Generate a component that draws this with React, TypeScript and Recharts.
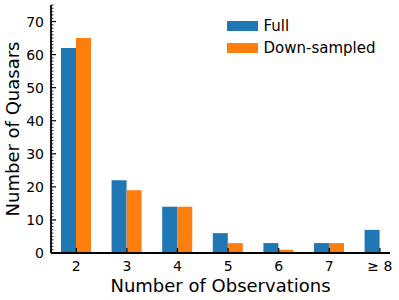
import React from 'react';
import { BarChart, Bar, XAxis, YAxis, Legend } from 'recharts';

const categories = [2, 3, 4, 5, 6, 7, 8];
const tickLabels = ['2', '3', '4', '5', '6', '7', '\u2265 8'];
const fullCounts = [62, 22, 14, 6, 3, 3, 7];
const downCounts: (number | null)[] = [65, 19, 14, 3, 1, 3, null];
const yMajorTicks = [0, 10, 20, 30, 40, 50, 60, 70];
const yMinorTicks = Array.from({ length: 76 }, (_, i) => i);

const seriesNames = ['Full', 'Down-sampled'];
const colors = ['#1f77b4', '#ff7f0e'];

const data = categories.map((c, i) => ({ x: c, full: fullCounts[i], down: downCounts[i] }));

const FONT = 'DejaVu Sans, sans-serif';

const BottomTick = (props: any) => {
  const { x, y, payload } = props;
  const idx = categories.indexOf(payload.value);
  return (
    <g>
      <line x1={x} x2={x} y1={y} y2={y - 5} stroke="#000" strokeWidth={1.2} />
      <text x={x} y={y + 18} textAnchor="middle" fontSize={14} fontFamily={FONT} fill="#000">
        {idx >= 0 ? tickLabels[idx] : payload.value}
      </text>
    </g>
  );
};

const TopTick = (props: any) => {
  const { x, y } = props;
  return <line x1={x} x2={x} y1={y} y2={y + 5} stroke="#000" strokeWidth={1.2} />;
};

const LeftTick = (props: any) => {
  const { x, y, payload } = props;
  const major = yMajorTicks.includes(payload.value);
  return (
    <g>
      <line x1={x} x2={x + (major ? 5 : 2.5)} y1={y} y2={y} stroke="#000" strokeWidth={major ? 1.2 : 0.8} />
      {major && (
        <text x={x - 7} y={y + 5} textAnchor="end" fontSize={14} fontFamily={FONT} fill="#000">
          {payload.value}
        </text>
      )}
    </g>
  );
};

const RightTick = (props: any) => {
  const { x, y, payload } = props;
  const major = yMajorTicks.includes(payload.value);
  return <line x1={x} x2={x - (major ? 5 : 2.5)} y1={y} y2={y} stroke="#000" strokeWidth={major ? 1.2 : 0.8} />;
};

const LegendContent = () => (
  <svg width={160} height={42} style={{ display: 'block' }}>
    {seriesNames.map((n, i) => (
      <g key={n}>
        <rect x={0} y={3 + i * 22} width={31} height={10} fill={colors[i]} />
        <text x={36.5} y={12.7 + i * 22} fontSize={15} fontFamily={FONT} fill="#000">
          {n}
        </text>
      </g>
    ))}
  </svg>
);

export default function App() {
  return (
    <div style={{ position: 'absolute', left: 0, top: 0, width: 399, height: 300, background: '#fff' }}>
      <BarChart
        width={399}
        height={300}
        data={data}
        margin={{ top: 5, right: 9, bottom: 0, left: 0 }}
        barGap={0}
        barSize={15}
      >
        <XAxis
          xAxisId="b"
          dataKey="x"
          type="number"
          domain={[1.5, 8.2]}
          ticks={categories}
          interval={0}
          allowDataOverflow
          height={47}
          tickSize={0}
          tickMargin={0}
          tickLine={false}
          axisLine={{ stroke: '#000', strokeWidth: 1.8 }}
          tick={(p: any) => <BottomTick {...p} />}
          label={{ value: 'Number of Observations', position: 'insideBottom', offset: 8, fontSize: 18, fontFamily: FONT, fill: '#000' }}
        />
        <XAxis
          xAxisId="t"
          orientation="top"
          dataKey="x"
          type="number"
          domain={[1.5, 8.2]}
          ticks={categories}
          interval={0}
          allowDataOverflow
          height={0}
          tickSize={0}
          tickMargin={0}
          tickLine={false}
          axisLine={{ stroke: '#000', strokeWidth: 1.8 }}
          tick={(p: any) => <TopTick {...p} />}
        />
        <YAxis
          yAxisId="l"
          type="number"
          domain={[0, 75]}
          ticks={yMinorTicks}
          interval={0}
          allowDataOverflow
          width={51}
          tickSize={0}
          tickMargin={0}
          tickLine={false}
          axisLine={{ stroke: '#000', strokeWidth: 1.8 }}
          tick={(p: any) => <LeftTick {...p} />}
          label={{ value: 'Number of Quasars', angle: -90, position: 'insideLeft', offset: 0, dx: 13, fontSize: 18, fontFamily: FONT, fill: '#000', style: { textAnchor: 'middle' } }}
        />
        <YAxis
          yAxisId="r"
          orientation="right"
          type="number"
          domain={[0, 75]}
          ticks={yMinorTicks}
          interval={0}
          allowDataOverflow
          width={0}
          tickSize={0}
          tickMargin={0}
          tickLine={false}
          axisLine={{ stroke: '#000', strokeWidth: 1.8 }}
          tick={(p: any) => <RightTick {...p} />}
        />
        <Legend
          layout="vertical"
          align="center"
          verticalAlign="middle"
          content={() => <LegendContent />}
          wrapperStyle={{ left: 227, top: 18, width: 160, height: 42 }}
        />
        <Bar xAxisId="b" yAxisId="l" dataKey="full" name={seriesNames[0]} fill={colors[0]} isAnimationActive={false} />
        <Bar xAxisId="b" yAxisId="l" dataKey="down" name={seriesNames[1]} fill={colors[1]} isAnimationActive={false} />
      </BarChart>
    </div>
  );
}
